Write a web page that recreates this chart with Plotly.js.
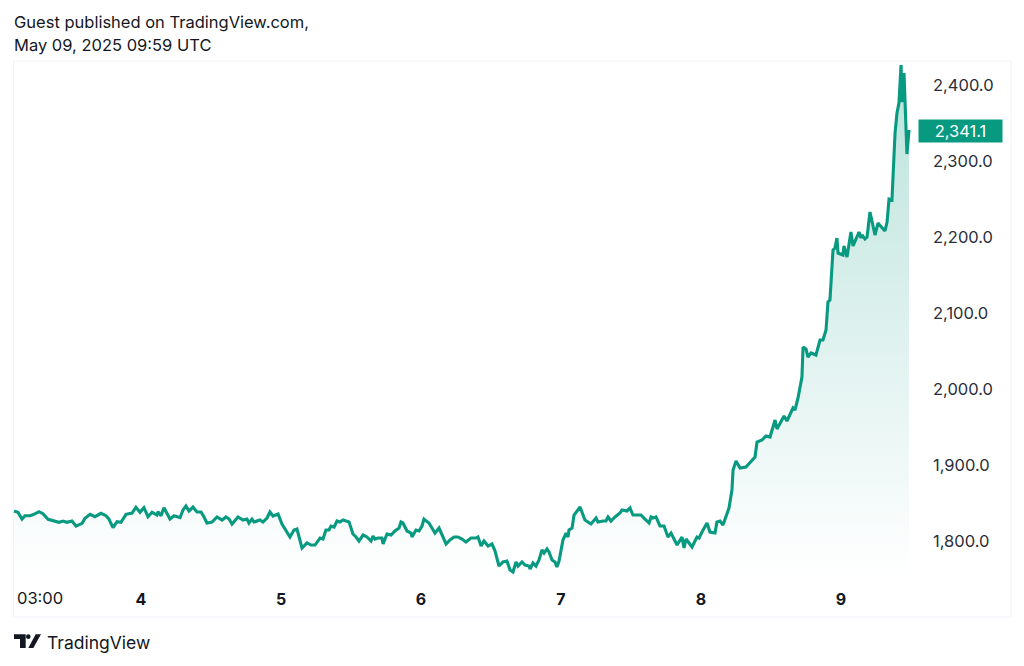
<!DOCTYPE html>
<html>
<head>
<meta charset="utf-8">
<script src="https://cdn.plot.ly/plotly-3.0.1.min.js"></script>
<style>html,body{margin:0;padding:0;background:#fff}#c{width:1024px;height:666px}</style>
</head>
<body>
<div id="c"></div>
<script>
// Day of May 2025 (fractional)
const days = [3.093,3.121,3.150,3.171,3.207,3.236,3.271,3.300,3.336,3.371,3.414,3.443,3.471,3.507,3.536,3.579,3.600,3.636,3.671,3.714,3.750,3.771,3.800,3.829,3.857,3.893,3.936,3.964,3.993,4.021,4.050,4.079,4.114,4.121,4.143,4.164,4.186,4.207,4.236,4.279,4.300,4.321,4.343,4.371,4.400,4.429,4.450,4.471,4.507,4.543,4.579,4.607,4.629,4.650,4.693,4.729,4.757,4.771,4.793,4.807,4.850,4.871,4.900,4.921,4.943,4.979,5.007,5.029,5.064,5.093,5.114,5.150,5.186,5.214,5.243,5.279,5.300,5.321,5.343,5.357,5.379,5.400,5.421,5.443,5.486,5.514,5.536,5.557,5.586,5.614,5.643,5.657,5.671,5.693,5.721,5.729,5.757,5.786,5.814,5.843,5.857,5.871,5.900,5.929,5.936,5.964,5.986,6.007,6.021,6.057,6.100,6.129,6.157,6.179,6.207,6.236,6.264,6.293,6.321,6.357,6.393,6.407,6.429,6.450,6.479,6.507,6.529,6.557,6.586,6.614,6.636,6.657,6.679,6.693,6.721,6.743,6.771,6.779,6.800,6.821,6.843,6.864,6.879,6.900,6.914,6.936,6.957,6.971,6.986,7.014,7.036,7.050,7.057,7.079,7.093,7.136,7.171,7.214,7.250,7.264,7.300,7.321,7.336,7.357,7.386,7.421,7.436,7.471,7.493,7.514,7.536,7.571,7.600,7.629,7.643,7.657,7.679,7.707,7.736,7.764,7.786,7.829,7.864,7.879,7.893,7.936,7.971,7.986,8.007,8.043,8.064,8.100,8.114,8.136,8.157,8.186,8.200,8.221,8.229,8.250,8.279,8.321,8.386,8.400,8.436,8.464,8.493,8.529,8.543,8.593,8.614,8.657,8.671,8.693,8.721,8.729,8.750,8.764,8.786,8.821,8.850,8.871,8.893,8.907,8.921,8.943,8.957,8.971,8.979,9.014,9.021,9.043,9.071,9.086,9.129,9.143,9.150,9.171,9.186,9.207,9.229,9.243,9.264,9.293,9.314,9.329,9.343,9.364,9.371,9.386,9.400,9.414,9.429,9.436,9.450,9.471,9.486];
const prices = [1839.5,1837.8,1828.9,1833.3,1833.3,1835.1,1838.6,1835.9,1828.6,1827.2,1824.6,1826.3,1824.6,1826.3,1819.7,1823.3,1829.9,1835.1,1832,1836.4,1833.3,1828.9,1817.5,1825.4,1824.6,1835.1,1836.8,1844.3,1837.8,1843.8,1832,1837.8,1834.2,1838.6,1833.3,1843.8,1836.4,1828.9,1833.3,1830.7,1840.8,1846.1,1839.5,1844.7,1838.2,1838.2,1831.6,1823.7,1825,1831.6,1827.6,1831.6,1828.9,1822.4,1831.6,1827.6,1828.9,1823.7,1828.9,1825,1827.6,1825,1830.3,1838.2,1832.9,1835.5,1822.4,1815.8,1805.3,1814.5,1815.8,1790.8,1797.4,1794.7,1794.7,1803.9,1802.6,1814.5,1814.5,1819.7,1818.4,1826.3,1825,1827.6,1825,1809.2,1805.3,1800,1807.9,1805.3,1800,1806.6,1802.6,1803.9,1803.9,1796.1,1809.2,1807.9,1813.2,1817.1,1825,1823.7,1813.2,1810.5,1805.3,1814.5,1813.2,1819.7,1828.9,1823.7,1810.5,1817.1,1803.9,1796.1,1801.3,1805.3,1805.3,1802.6,1798.7,1803.9,1803.9,1805.3,1793.4,1800,1793.4,1796.1,1786.8,1767.1,1772.4,1773.7,1761.8,1759.2,1772.4,1767.1,1772.4,1768.4,1767.1,1763.2,1771.1,1767.1,1775,1788.2,1784.2,1789.5,1785.5,1775,1772.4,1765.8,1773.7,1801.3,1810.5,1805.3,1814.5,1817.1,1834.2,1844.7,1827.6,1822.4,1830.3,1825,1826.3,1826.3,1831.6,1826.3,1831.6,1836.8,1840.8,1839.5,1843.4,1834.2,1834.2,1834.2,1828.9,1823.7,1831.6,1830.3,1831.6,1819.7,1819.7,1805.3,1810.5,1794.7,1805.3,1790.8,1802.6,1792.1,1805.3,1803.9,1811.8,1823.7,1811.8,1810.5,1825,1826.3,1821.1,1838.2,1843.4,1867.1,1893.4,1905.3,1896.1,1897.4,1910.5,1930.3,1932.9,1938.2,1936.8,1959.2,1947.4,1964.5,1957.9,1975,1972.4,1988.2,2015.8,2055.3,2052.6,2042.1,2047.4,2044.7,2064.5,2064.5,2077.6,2114.5,2117.1,2182.9,2185.5,2198.7,2178.9,2176.3,2188.2,2173.7,2206.6,2188.2,2206.6,2198.7,2202.6,2197.4,2200,2232.9,2215.8,2202.6,2218.4,2211.8,2207.9,2219.7,2250,2248.7,2278.9,2336.8,2363.2,2376.3,2426.3,2377.6,2415.8,2309.2,2341.1];
const dayTicks = [4,5,6,7,8,9];
const dayLabels = ['<b>4</b>','<b>5</b>','<b>6</b>','<b>7</b>','<b>8</b>','<b>9</b>'];
const priceTicks = [1800,1900,2000,2100,2200,2300,2400];
const lastPrice = 2341.1;

const W=1024,H=666,L=13,R=925,T=61,B=580;
const px=x=>(x-L)/(R-L), py=y=>(B-y)/(B-T);
const INK='#131722', GREEN='#089981', FONT='Inter, "Liberation Sans", sans-serif';

function poly(pts){return 'M'+pts.map(p=>px(p[0])+','+py(p[1])).join('L')+'Z';}
const logoShape=(path)=>({type:'path',xref:'paper',yref:'paper',path,fillcolor:INK,line:{width:0}});

Plotly.newPlot('c',[{
  type:'scatter',mode:'lines',x:days,y:prices,
  line:{color:GREEN,width:3.1,shape:'linear'},
  fill:'tozeroy',
  fillgradient:{type:'vertical',start:1749,stop:2431,
    colorscale:[[0,'rgba(8,153,129,0)'],[1,'rgba(8,153,129,0.28)']]},
  hoverinfo:'skip',showlegend:false
}],{
  width:W,height:H,
  margin:{l:L,r:W-R,t:T,b:H-B,pad:0},
  paper_bgcolor:'#fff',plot_bgcolor:'#fff',
  font:{family:FONT,color:INK,size:16.5},
  showlegend:false,
  title:{text:'Guest published on TradingView.com,',x:14/W,xanchor:'left',y:1-22/H,yanchor:'middle',
    xref:'container',yref:'container',font:{family:FONT,size:16.5,color:INK}},
  xaxis:{range:[3+(L-1)/140,3+(R-1)/140],tickmode:'array',tickvals:dayTicks,ticktext:dayLabels,
    showgrid:false,zeroline:false,showline:false,ticks:'',ticklabelstandoff:8,
    tickfont:{family:FONT,size:16,color:INK},fixedrange:true},
  yaxis:{side:'right',range:[1748.7,2431.6],tickmode:'array',tickvals:priceTicks,tickformat:',.1f',
    showgrid:false,zeroline:false,showline:false,ticks:'',ticklabelstandoff:7,
    tickfont:{family:FONT,size:16.5,color:'#2a2e39'},fixedrange:true},
  shapes:[
    {type:'rect',xref:'paper',yref:'paper',x0:px(13.5),x1:px(1011),y0:py(617),y1:py(61),
      line:{color:'#f0f3fa',width:1},fillcolor:'rgba(0,0,0,0)',layer:'below'},
    logoShape(poly([[14,634.3],[25.7,634.3],[25.7,648],[20,648],[20,639],[14,639]])),
    {type:'circle',xref:'paper',yref:'paper',x0:px(26),x1:px(30.6),y0:py(639),y1:py(634.3),fillcolor:INK,line:{width:0}},
    logoShape(poly([[35.7,634.3],[41,634.3],[33.3,648],[28.3,648]]))
  ],
  annotations:[
    {text:'May 09, 2025 09:59 UTC',xref:'paper',yref:'paper',x:px(12),y:py(45),xanchor:'left',yanchor:'middle',showarrow:false,font:{family:FONT,size:16.5,color:INK}},
    {text:'03:00',xref:'x',yref:'paper',x:3+(15-1)/140,y:py(598),xanchor:'left',yanchor:'middle',showarrow:false,font:{family:FONT,size:16.5,color:INK}},
    {text:'TradingView',xref:'paper',yref:'paper',x:px(45),y:py(642),xanchor:'left',yanchor:'middle',showarrow:false,font:{family:FONT,size:17.5,color:INK}},
    {text:'2,341.1',xref:'paper',yref:'y',x:px(918),y:lastPrice,xanchor:'left',yanchor:'middle',yshift:-1,
      width:81,height:20,align:'center',bgcolor:GREEN,showarrow:false,font:{family:FONT,size:16.5,color:'#fff'}}
  ]
},{displayModeBar:false,staticPlot:true});
</script>
</body>
</html>
